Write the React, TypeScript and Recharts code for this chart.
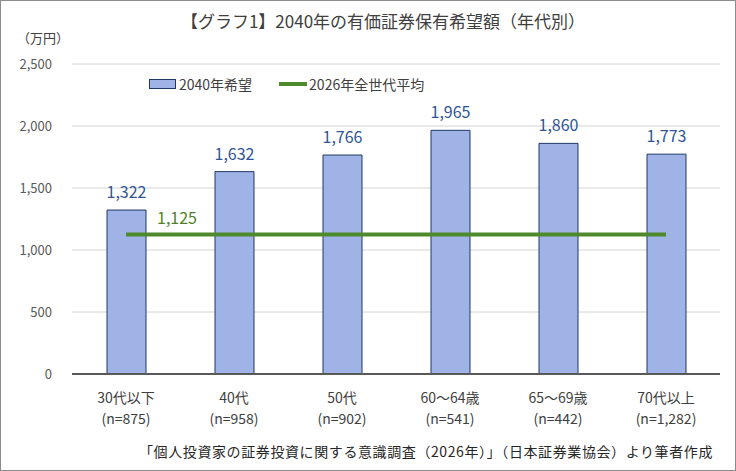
import {
  ComposedChart,
  Bar,
  Line,
  XAxis,
  YAxis,
  CartesianGrid,
  LabelList,
} from 'recharts';

const ages = ['30代以下', '40代', '50代', '60～64歳', '65～69歳', '70代以上'];
const counts = ['(n=875)', '(n=958)', '(n=902)', '(n=541)', '(n=442)', '(n=1,282)'];
const hope2040 = [1322, 1632, 1766, 1965, 1860, 1773];
const avg2026 = [1125, 1125, 1125, 1125, 1125, 1125];
const yTicks = [0, 500, 1000, 1500, 2000, 2500];

const chartData = ages.map((age, i) => ({
  age,
  n: counts[i],
  hope: hope2040[i],
  avg: avg2026[i],
}));

const font = '"Noto Sans CJK JP", "Noto Sans", sans-serif';
const fmt = (v: number) => v.toLocaleString('en-US');

function AgeTick({ x, y, payload, index }: any) {
  return (
    <g transform={`translate(${x},${y})`}>
      <text x={0} y={21} textAnchor="middle" fontSize={14} fill="#404040">
        {payload.value}
      </text>
      <text x={0} y={42} textAnchor="middle" fontSize={14} fill="#404040">
        {counts[index]}
      </text>
    </g>
  );
}

function AvgLabel({ x, y, index }: any) {
  if (index !== 0) return null;
  return (
    <text x={x + 51} y={y - 11} textAnchor="middle" fontSize={16} fill="#4e7f2a">
      {fmt(avg2026[0])}
    </text>
  );
}

export default function App() {
  return (
    <div
      style={{
        position: 'absolute',
        left: 0,
        top: 0,
        width: 734,
        height: 469,
        border: '1px solid #8c8c8c',
        background: '#fff',
        fontFamily: font,
      }}
    >
      <div
        style={{
          position: 'absolute',
          top: 7,
          left: 0,
          width: 734,
          textAlign: 'center',
          fontSize: 17,
          color: '#404040',
          transform: 'translateX(15px)',
        }}
      >
        【グラフ1】2040年の有価証券保有希望額（年代別）
      </div>
      <div style={{ position: 'absolute', top: 27, left: 16, fontSize: 13, color: '#404040' }}>
        （万円）
      </div>
      <div
        style={{
          position: 'absolute',
          top: 73,
          left: 148,
          display: 'flex',
          alignItems: 'center',
          fontSize: 14,
          color: '#404040',
          zIndex: 2,
        }}
      >
        <span
          style={{
            display: 'inline-block',
            width: 25,
            height: 8,
            background: '#9fb3e6',
            border: '1px solid #1f3864',
            marginRight: 3,
          }}
        />
        <span style={{ marginRight: 27 }}>2040年希望</span>
        <span
          style={{
            display: 'inline-block',
            width: 28,
            height: 4,
            background: '#4e8a2c',
            marginRight: 2,
          }}
        />
        <span>2026年全世代平均</span>
      </div>
      <div
        style={{
          position: 'absolute',
          top: 440,
          right: 22,
          fontSize: 14,
          letterSpacing: 0.6,
          color: '#262626',
          whiteSpace: 'nowrap',
        }}
      >
        「個人投資家の証券投資に関する意識調査（2026年）」（日本証券業協会）より筆者作成
      </div>
      <ComposedChart
        width={734}
        height={469}
        data={chartData}
        margin={{ top: 63, right: 15, left: 0, bottom: 0 }}
        style={{ fontFamily: font }}
      >
        <CartesianGrid vertical={false} stroke="#d4d4d4" />
        <XAxis
          dataKey="age"
          height={96}
          tick={<AgeTick />}
          tickLine={false}
          axisLine={{ stroke: '#595959', strokeWidth: 2 }}
          interval={0}
        />
        <YAxis
          width={71}
          domain={[0, 2500]}
          ticks={yTicks}
          tickFormatter={fmt}
          tick={{ fontSize: 13, fill: '#595959', dx: -12 }}
          tickLine={false}
          axisLine={false}
        />
        <Bar
          dataKey="hope"
          barSize={39}
          fill="#9fb3e6"
          stroke="#1f3864"
          strokeWidth={1}
          isAnimationActive={false}
        >
          <LabelList
            dataKey="hope"
            position="top"
            offset={12}
            formatter={fmt}
            style={{ fontSize: 16, fill: '#2f5597' }}
          />
        </Bar>
        <Line
          dataKey="avg"
          type="linear"
          stroke="#4e8a2c"
          strokeWidth={4}
          dot={false}
          activeDot={false}
          isAnimationActive={false}
        >
          <LabelList dataKey="avg" content={<AvgLabel />} />
        </Line>
      </ComposedChart>
    </div>
  );
}
